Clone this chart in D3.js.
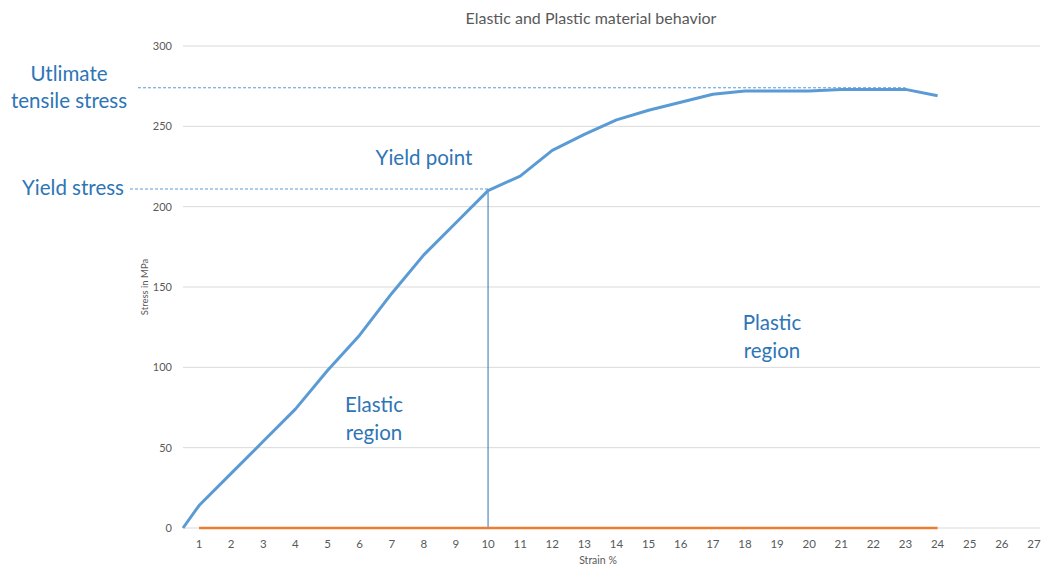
<!DOCTYPE html>
<html>
<head>
<meta charset="utf-8">
<script src="https://cdn.jsdelivr.net/npm/d3@7"></script>
<style>
  body { margin: 0; background: #fff; }
  svg text { font-family: Lato, "Open Sans", sans-serif; }
</style>
</head>
<body>
<div class="container"></div>
<script>
// stress-strain curve, strain % -> stress MPa
const strain = [0.5, 1, 2, 3, 4, 5, 6, 7, 8, 9, 10, 11, 12, 13, 14, 15, 16, 17, 18, 19, 20, 21, 22, 23, 24]
const stress = [0, 14, 34, 54, 74, 98, 120, 146, 170, 190, 210, 219, 235, 245, 254, 260, 265, 270, 272, 272, 272, 273, 273, 273, 269]
const baseStrain = [1, 24]
const baseStress = [0, 0]
const xTicks = d3.range(1, 28)
const yTicks = [0, 50, 100, 150, 200, 250, 300]
const yieldStrain = 10
const yieldStress = 211
const ultimateStress = 274

const width = 1045
const height = 567
const margin = {top: 46, right: -5, bottom: 39, left: 183}

const svg = d3.select('.container')
  .append('svg')
  .attr('width', width)
  .attr('height', height)

const x = d3.scaleLinear()
  .domain([0.5, 27.5])
  .range([margin.left, width - margin.right])

const y = d3.scaleLinear()
  .domain([0, 300])
  .range([height - margin.bottom, margin.top])

// gridlines
svg.append('g')
  .selectAll('line')
  .data(yTicks)
  .join('line')
    .attr('x1', margin.left)
    .attr('x2', 1040)
    .attr('y1', d => y(d))
    .attr('y2', d => y(d))
    .attr('stroke', '#d9d9d9')
    .attr('stroke-width', 1)

// y axis labels
svg.append('g')
  .selectAll('text')
  .data(yTicks)
  .join('text')
    .attr('x', 172)
    .attr('y', d => y(d) + 4)
    .attr('text-anchor', 'end')
    .attr('font-size', 11)
    .attr('fill', '#595959')
    .text(d => d)

// x axis labels
svg.append('g')
  .selectAll('text')
  .data(xTicks)
  .join('text')
    .attr('x', d => x(d))
    .attr('y', y(0) + 20)
    .attr('text-anchor', 'middle')
    .attr('font-size', 11.5)
    .attr('fill', '#595959')
    .text(d => d)

svg.append('text')
  .attr('x', 598)
  .attr('y', 564)
  .attr('text-anchor', 'middle')
  .attr('font-size', 10.5)
  .attr('fill', '#595959')
  .text('Strain %')

svg.append('text')
  .attr('transform', `translate(148, ${y(150)}) rotate(-90)`)
  .attr('text-anchor', 'middle')
  .attr('font-size', 9.5)
  .attr('fill', '#595959')
  .text('Stress in MPa')

svg.append('text')
  .attr('x', 591)
  .attr('y', 24)
  .attr('text-anchor', 'middle')
  .attr('font-size', 16)
  .attr('fill', '#595959')
  .text('Elastic and Plastic material behavior')

// dashed reference lines
svg.append('line')
  .attr('x1', 138).attr('x2', x(23))
  .attr('y1', y(ultimateStress)).attr('y2', y(ultimateStress))
  .attr('stroke', '#5b9bd5')
  .attr('stroke-width', 1)
  .attr('stroke-dasharray', '3,2')

svg.append('line')
  .attr('x1', 130).attr('x2', x(yieldStrain))
  .attr('y1', y(yieldStress)).attr('y2', y(yieldStress))
  .attr('stroke', '#5b9bd5')
  .attr('stroke-width', 1)
  .attr('stroke-dasharray', '3,2')

// yield vertical
svg.append('line')
  .attr('x1', x(yieldStrain)).attr('x2', x(yieldStrain))
  .attr('y1', y(yieldStress)).attr('y2', y(0))
  .attr('stroke', '#2e75b6')
  .attr('stroke-width', 1)

const line = d3.line()
  .x(d => x(d[0]))
  .y(d => y(d[1]))

svg.append('path')
  .attr('d', line(d3.zip(baseStrain, baseStress)))
  .attr('fill', 'none')
  .attr('stroke', '#ed7d31')
  .attr('stroke-width', 2.5)

svg.append('path')
  .attr('d', line(d3.zip(strain, stress)))
  .attr('fill', 'none')
  .attr('stroke', '#5b9bd5')
  .attr('stroke-width', 3)
  .attr('stroke-linejoin', 'round')

// annotations
const notes = [
  {t: 'Utlimate', x: 69, y: 81},
  {t: 'tensile stress', x: 69, y: 108},
  {t: 'Yield stress', x: 73, y: 195},
  {t: 'Yield point', x: 424, y: 165},
  {t: 'Elastic', x: 374, y: 412},
  {t: 'region', x: 374, y: 440},
  {t: 'Plastic', x: 772, y: 330},
  {t: 'region', x: 772, y: 358}
]

svg.append('g')
  .selectAll('text')
  .data(notes)
  .join('text')
    .attr('x', d => d.x)
    .attr('y', d => d.y)
    .attr('text-anchor', 'middle')
    .attr('font-size', 20.5)
    .attr('fill', '#2e75b6')
    .text(d => d.t)
</script>
</body>
</html>
